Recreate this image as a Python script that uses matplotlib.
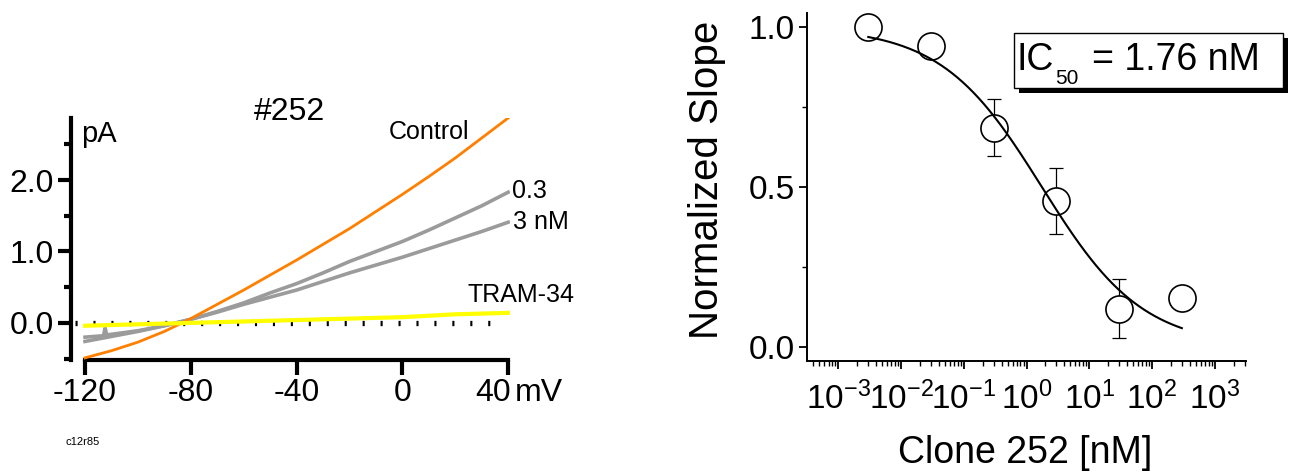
import numpy as np
import matplotlib
matplotlib.use("Agg")
import matplotlib.pyplot as plt
from matplotlib.patches import Rectangle
from matplotlib.ticker import FixedLocator, LogLocator, NullFormatter

plt.rcParams['font.family'] = ['Liberation Sans', 'DejaVu Sans']
plt.rcParams['mathtext.fontset'] = 'custom'
plt.rcParams['mathtext.rm'] = 'Liberation Sans'
plt.rcParams['mathtext.it'] = 'Liberation Sans:italic'
plt.rcParams['mathtext.bf'] = 'Liberation Sans:bold'
SANS = ['Liberation Sans', 'DejaVu Sans']

# ---------------- data: left panel (I-V traces) ----------------
voltage = [-120, -110, -100, -90, -80, -70, -60, -50, -40, -30, -20, -10, 0, 10, 20, 30, 40]
i_control = [-0.49, -0.39, -0.27, -0.12, 0.06, 0.26, 0.46, 0.67, 0.88, 1.10, 1.32, 1.56, 1.80, 2.05, 2.31, 2.59, 2.87]
voltage_03 = [-120, -113, -112.4, -111.8, -110, -100, -90, -80, -70, -60, -50, -40, -30, -20, -10, 0, 10, 20, 30, 40]
i_03nm = [-0.20, -0.18, -0.07, -0.17, -0.16, -0.11, -0.04, 0.05, 0.16, 0.28, 0.42, 0.55, 0.70, 0.86, 1.00, 1.14, 1.30, 1.47, 1.64, 1.83]
i_3nm = [-0.26, -0.19, -0.12, -0.04, 0.05, 0.15, 0.26, 0.36, 0.46, 0.58, 0.70, 0.81, 0.92, 1.04, 1.16, 1.28, 1.41]
i_tram = [-0.04, -0.03, -0.02, -0.01, 0.00, 0.01, 0.02, 0.03, 0.04, 0.05, 0.06, 0.07, 0.08, 0.10, 0.12, 0.13, 0.14]
x_ticks_L = [-120, -80, -40, 0, 40]
x_labels_L = ['-120', '-80', '-40', '0', '40']
y_ticks_L = [0.0, 1.0, 2.0]
y_labels_L = ['0.0', '1.0', '2.0']
y_minor_L = [-0.5, 0.5, 1.5, 2.5]

# ---------------- data: right panel (dose response) ----------------
conc_nM = [0.003, 0.03, 0.3, 3, 30, 300]
norm_slope = [1.00, 0.94, 0.686, 0.456, 0.12, 0.152]
slope_err = [0.0, 0.0, 0.089, 0.104, 0.092, 0.0]
IC50 = 1.76
hill = 0.54
y_ticks_R = [0.0, 0.5, 1.0]
y_labels_R = ['0.0', '0.5', '1.0']
y_minor_R = [0.25, 0.75]

W, H = 1290, 476
fig = plt.figure(figsize=(W / 100, H / 100), dpi=100)

# ================= left panel =================
axL = fig.add_axes([71 / W, 1 - 360 / H, 438.5 / W, 242 / H])
axL.set_xlim(-125.3, 40.5)
axL.set_ylim(-0.52, 2.87)
axL.axhline(0, xmin=0.008, xmax=0.985, color='black', lw=3.8,
            linestyle=(0, (0.4, 3.0)), dash_capstyle='butt', zorder=1)
axL.plot(voltage_03, i_03nm, color='#9b9b9b', lw=2.6, zorder=2)
axL.plot(voltage, i_3nm, color='#9b9b9b', lw=2.6, zorder=2)
axL.plot(voltage, i_control, color='#ff7f00', lw=2.0, zorder=3)
axL.plot(voltage, i_tram, color='#ffff00', lw=3.0, zorder=4)

for s in ['top', 'right']:
    axL.spines[s].set_visible(False)
for s in ['left', 'bottom']:
    axL.spines[s].set_linewidth(3)
axL.spines['bottom'].set_bounds(x_ticks_L[0], x_ticks_L[-1])

axL.set_xticks(x_ticks_L)
axL.set_xticklabels(x_labels_L[:-1] + [''])
axL.set_yticks(y_ticks_L)
axL.set_yticklabels(y_labels_L)
axL.yaxis.set_minor_locator(FixedLocator(y_minor_L))
axL.tick_params(axis='y', which='major', length=9.5, width=3, labelsize=23, pad=3)
axL.tick_params(axis='y', which='minor', length=5, width=3)
axL.tick_params(axis='x', which='major', length=11, width=3, labelsize=23, pad=2)

# last tick label and unit
axL.annotate(x_labels_L[-1], xy=(x_ticks_L[-1], 0), xycoords=('data', 'axes fraction'),
             xytext=(2, -13), textcoords='offset points', ha='right', va='top', fontsize=23)
axL.annotate('mV', xy=(x_ticks_L[-1], 0), xycoords=('data', 'axes fraction'),
             xytext=(5, -13), textcoords='offset points', ha='left', va='top', fontsize=23)

axL.text(-121.5, 2.64, 'pA', fontsize=21, ha='left', va='center')
axL.text(-42.8, 2.95, '#252', fontsize=23, ha='center', va='center')
axL.text(-5.0, 2.67, 'Control', fontsize=18, ha='left', va='center')
axL.text(41.5, 1.85, '0.3', fontsize=18, ha='left', va='center')
axL.text(42.0, 1.41, '3 nM', fontsize=18, ha='left', va='center')
axL.text(24.5, 0.39, 'TRAM-34', fontsize=18, ha='left', va='center')

fig.text(83 / W, 1 - 442 / H, 'c12r85', fontsize=8, ha='center', va='center')

# ================= right panel =================
axR = fig.add_axes([807 / W, 1 - 361 / H, 439 / W, 348 / H])
axR.set_xscale('log')
axR.set_xlim(10 ** -3.5, 10 ** 3.5)
axR.set_ylim(-0.044, 1.044)

axR.errorbar(conc_nM, norm_slope, yerr=slope_err, fmt='none', ecolor='black',
             elinewidth=0.9, capsize=5, capthick=0.9, zorder=2)
axR.plot(conc_nM, norm_slope, 'o', ms=19.5, mfc='white', mec='black', mew=1.2, zorder=3)
xs = np.logspace(np.log10(conc_nM[0]), np.log10(conc_nM[-1]), 300)
axR.plot(xs, 1.0 / (1.0 + (xs / IC50) ** hill), color='black', lw=1.5, zorder=4)

for s in ['top', 'right']:
    axR.spines[s].set_visible(False)
for s in ['left', 'bottom']:
    axR.spines[s].set_linewidth(1.4)

axR.xaxis.set_major_locator(LogLocator(base=10, numticks=20))
axR.xaxis.set_minor_locator(LogLocator(base=10, subs=np.arange(2, 10), numticks=20))
axR.xaxis.set_minor_formatter(NullFormatter())
axR.set_yticks(y_ticks_R)
axR.set_yticklabels(y_labels_R)
axR.yaxis.set_minor_locator(FixedLocator(y_minor_R))
axR.tick_params(axis='both', which='major', length=6, width=1.3, labelsize=24)
axR.tick_params(axis='y', which='major', pad=3)
axR.tick_params(axis='x', which='major', pad=9)
axR.tick_params(axis='both', which='minor', length=3.5, width=1.0)

fig.text(1025 / W, 1 - 453 / H, 'Clone 252 [nM]', fontsize=27, ha='center', va='center')
fig.text(707 / W, 1 - 180 / H, 'Normalized Slope', fontsize=29, ha='center', va='center',
         rotation=90)

# IC50 box with shadow
bx0, bx1, by0, by1 = 1014, 1283, 33, 88
fig.patches.append(Rectangle(((bx0 + 5) / W, 1 - (by1 + 5) / H), (bx1 - bx0) / W, (by1 - by0) / H,
                             transform=fig.transFigure, facecolor='black', edgecolor='none', zorder=5))
fig.patches.append(Rectangle((bx0 / W, 1 - by1 / H), (bx1 - bx0) / W, (by1 - by0) / H,
                             transform=fig.transFigure, facecolor='white', edgecolor='black',
                             lw=1.0, zorder=6))
fig.text(1017 / W, 1 - 70 / H, 'IC', fontsize=27, ha='left', va='baseline', zorder=7)
fig.text(1055 / W, 1 - 84 / H, '50', fontsize=15, ha='left', va='baseline', zorder=7)
fig.text(1092 / W, 1 - 70 / H, '= 1.76 nM', fontsize=27, ha='left', va='baseline', zorder=7)

fig.savefig('out.png', dpi=100)
